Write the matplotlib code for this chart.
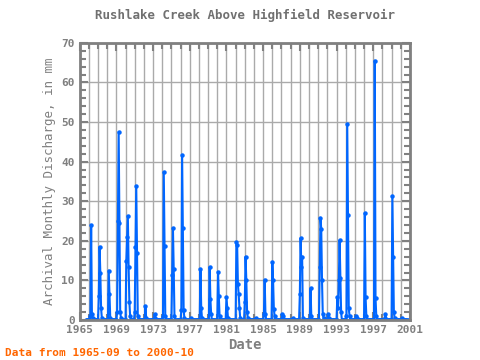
import numpy as np
import pandas as pd
import matplotlib
matplotlib.use("Agg")
import matplotlib.pyplot as plt
from matplotlib.ticker import MultipleLocator, FixedLocator

# record runs monthly from 1965-09 to 2000-10, months not listed were ~0
start, end = "1965-09", "2000-10"

flow_months = [
    "1966-03", "1966-04", "1966-05", "1966-06",
    "1967-02", "1967-03", "1967-04", "1967-05", "1967-06",
    "1968-03", "1968-04", "1968-05",
    "1969-02", "1969-03", "1969-04", "1969-05", "1969-06", "1969-07",
    "1970-02", "1970-03", "1970-04", "1970-05", "1970-06", "1970-07",
    "1971-01", "1971-02", "1971-03", "1971-04", "1971-05",
    "1972-03", "1972-04",
    "1973-03", "1973-04",
    "1974-02", "1974-03", "1974-04", "1974-05",
    "1975-02", "1975-03", "1975-04", "1975-05",
    "1976-02", "1976-03", "1976-04", "1976-05", "1976-06",
    "1977-03",
    "1978-03", "1978-04", "1978-05",
    "1979-03", "1979-04", "1979-05",
    "1980-02", "1980-03", "1980-04",
    "1981-01", "1981-02", "1981-03",
    "1982-02", "1982-03", "1982-04", "1982-05", "1982-06", "1982-07",
    "1983-01", "1983-02", "1983-03", "1983-04", "1983-05",
    "1984-03", "1984-04",
    "1985-02", "1985-03", "1985-04",
    "1986-01", "1986-02", "1986-03", "1986-04",
    "1987-02", "1987-03",
    "1988-04",
    "1989-01", "1989-02", "1989-03", "1989-04", "1989-05",
    "1990-03", "1990-04",
    "1991-03", "1991-04", "1991-05", "1991-06", "1991-07", "1991-08",
    "1992-02", "1992-03",
    "1993-02", "1993-03", "1993-04", "1993-05", "1993-06", "1993-07",
    "1994-02", "1994-03", "1994-04", "1994-05", "1994-06",
    "1995-03", "1995-04",
    "1996-02", "1996-03", "1996-04",
    "1997-03", "1997-04", "1997-05",
    "1998-04", "1998-05",
    "1999-02", "1999-03", "1999-04", "1999-05",
    "2000-03",
]
flow_values = [
    1.0, 24.0, 1.5, 0.5,
    6.0, 18.5, 12.0, 3.0, 0.5,
    12.5, 6.5, 0.5,
    2.0, 25.0, 47.5, 24.5, 2.0, 0.5,
    15.0, 21.0, 26.3, 13.5, 4.5, 1.0,
    2.0, 18.5, 33.8, 17.0, 1.0,
    3.5, 0.5,
    1.5, 0.5,
    1.0, 37.3, 18.6, 1.0,
    11.5, 23.2, 12.9, 1.0,
    2.5, 41.7, 23.3, 2.5, 0.5,
    0.5,
    12.9, 3.0, 0.5,
    13.4, 5.3, 1.5,
    12.1, 6.0, 1.0,
    5.8, 3.0, 0.5,
    19.7, 19.0, 9.0, 6.5, 3.0, 0.5,
    4.6, 16.0, 10.0, 2.0, 0.5,
    0.5, 0.3,
    1.5, 10.2, 1.5,
    14.7, 10.0, 2.8, 1.0,
    1.5, 1.0,
    0.5,
    6.6, 20.7, 13.4, 16.0, 0.5,
    8.0, 1.0,
    13.4, 25.8, 23.0, 10.0, 1.5, 0.5,
    1.5, 0.5,
    5.8, 3.0, 10.0, 20.2, 10.5, 2.0,
    1.0, 49.4, 26.5, 3.0, 1.0,
    1.0, 0.5,
    27.0, 5.8, 1.0,
    65.5, 5.6, 1.0,
    0.5, 1.5,
    31.3, 16.0, 2.0, 0.5,
    0.5,
]
year_ticks = list(range(1965, 2002, 4))

months = pd.period_range(start, end, freq="M")
flow = pd.Series(0.0, index=months)
flow[pd.PeriodIndex(flow_months, freq="M")] = flow_values
t = months.year + (months.month - 1) / 12.0

grey = "#808080"
plt.rcParams["font.family"] = "DejaVu Sans Mono"

fig = plt.figure(figsize=(4.8, 3.6), dpi=100)
ax = fig.add_axes([0.166, 0.111, 0.688, 0.770])

ax.plot(t, flow.values, color="#0066ff", lw=1.5, marker="o", ms=2.2)

ax.set_xlim(1965, 2001)
ax.set_ylim(0, 70)
ax.xaxis.set_major_locator(FixedLocator(year_ticks))
ax.xaxis.set_minor_locator(MultipleLocator(1))
ax.yaxis.set_major_locator(MultipleLocator(10))
ax.yaxis.set_minor_locator(MultipleLocator(2))
ax.grid(True, which="major", color="#aaaaaa", lw=1)
ax.grid(True, which="minor", axis="x", color="#aaaaaa", lw=1)
ax.tick_params(which="both", direction="in", top=True, right=True,
               color=grey, labelcolor=grey, labelsize=8)
ax.tick_params(which="major", length=6, width=1.5)
ax.tick_params(which="minor", length=4, width=1.5)
for lbl in ax.get_xticklabels() + ax.get_yticklabels():
    lbl.set_fontweight("bold")
for s in ax.spines.values():
    s.set_color(grey)
    s.set_linewidth(2)

ax.set_title("Rushlake Creek Above Highfield Reservoir", color="#707070",
             fontsize=9, fontweight="bold", pad=17)
ax.set_ylabel("Archival Monthly Discharge, in mm", color=grey, fontsize=9)
ax.set_xlabel("Date", color=grey, fontsize=10, fontweight="bold", labelpad=2)
fig.text(0.01, 0.01, "Data from 1965-09 to 2000-10", color="#ff6600",
         fontsize=8, fontweight="bold")

fig.savefig("out.png", dpi=100)
